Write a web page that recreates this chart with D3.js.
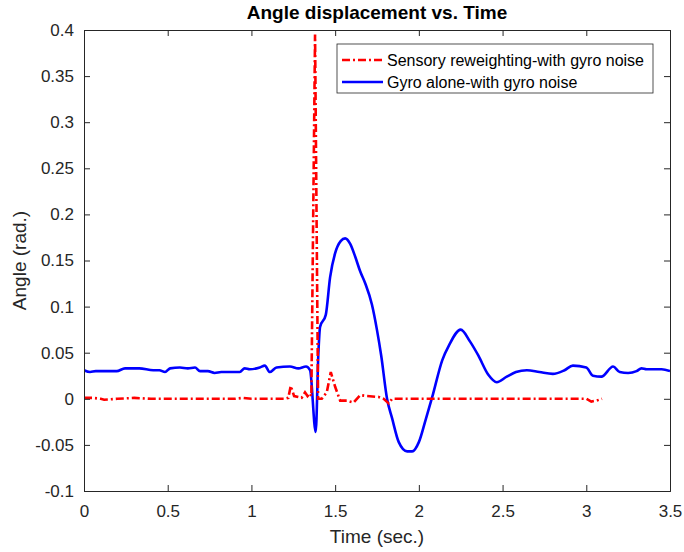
<!DOCTYPE html>
<html>
<head>
<meta charset="utf-8">
<script src="https://cdn.jsdelivr.net/npm/d3@7/dist/d3.min.js"></script>
<style>
  html, body { margin: 0; padding: 0; background: #fff; }
  svg { display: block; }
  text { font-family: "Liberation Sans", Arial, Helvetica, sans-serif; }
</style>
</head>
<body>
<svg id="chart" width="684" height="552"></svg>
<script>
// ---- data ----
const titleText = "Angle displacement vs. Time";
const xLabel = "Time (sec.)";
const yLabel = "Angle (rad.)";
const seriesNames = ["Sensory reweighting-with gyro noise", "Gyro alone-with gyro noise"];
const xTicks = [0, 0.5, 1, 1.5, 2, 2.5, 3, 3.5];
const yTicks = [-0.1, -0.05, 0, 0.05, 0.1, 0.15, 0.2, 0.25, 0.3, 0.35, 0.4];

const redT = [0, 0.05, 0.1, 0.12, 0.2, 0.3, 0.4, 0.5, 0.6, 0.7, 0.8, 0.9, 0.95, 1.0, 1.1, 1.2, 1.22, 1.235, 1.255, 1.3, 1.32, 1.335, 1.35, 1.358, 1.38, 1.398, 1.42, 1.45, 1.474, 1.5, 1.53, 1.57, 1.61, 1.65, 1.69, 1.76, 1.79, 1.82, 1.84, 2.0, 2.5, 3.0, 3.03, 3.06, 3.094];
const redV = [0.001, 0.001, 0.0, -0.001, 0.0, 0.001, 0.0, 0.0, 0.0, 0.0, 0.0, 0.0, 0.001, 0.0, 0.0, 0.0, 0.001, 0.014, 0.003, 0.001, 0.007, 0.003, 0.006, 0.003, 0.395, 0.0, 0.0, 0.007, 0.029, 0.013, -0.002, -0.002, -0.004, 0.004, 0.003, 0.002, 0.0, -0.005, 0.0, 0.0, 0.0, 0.0, -0.003, -0.002, 0.0];

const blueT = [0, 0.036, 0.07, 0.195, 0.245, 0.33, 0.414, 0.45, 0.484, 0.514, 0.573, 0.62, 0.663, 0.693, 0.74, 0.78, 0.82, 0.93, 0.96, 0.99, 1.05, 1.08, 1.11, 1.15, 1.23, 1.28, 1.326, 1.35, 1.384, 1.40, 1.41, 1.444, 1.47, 1.50, 1.533, 1.56, 1.59, 1.62, 1.65, 1.68, 1.72, 1.75, 1.775, 1.81, 1.84, 1.88, 1.93, 1.96, 2.0, 2.04, 2.08, 2.14, 2.18, 2.25, 2.306, 2.355, 2.415, 2.465, 2.525, 2.58, 2.645, 2.72, 2.80, 2.87, 2.92, 3.00, 3.04, 3.09, 3.16, 3.20, 3.25, 3.30, 3.33, 3.36, 3.45, 3.5];
const blueV = [0.031, 0.029, 0.030, 0.030, 0.033, 0.033, 0.031, 0.031, 0.029, 0.033, 0.034, 0.033, 0.034, 0.030, 0.030, 0.028, 0.029, 0.029, 0.033, 0.032, 0.034, 0.036, 0.029, 0.034, 0.035, 0.033, 0.035, 0.031, -0.036, 0.05, 0.078, 0.091, 0.132, 0.158, 0.171, 0.174, 0.168, 0.154, 0.138, 0.125, 0.102, 0.0745, 0.047, 0.0, -0.021, -0.047, -0.057, -0.057, -0.047, -0.023, 0.002, 0.042, 0.058, 0.075, 0.062, 0.047, 0.026, 0.018, 0.024, 0.029, 0.031, 0.029, 0.027, 0.031, 0.036, 0.034, 0.025, 0.024, 0.035, 0.029, 0.028, 0.030, 0.033, 0.032, 0.032, 0.030];

// ---- layout ----
const L = 84, R = 670, T = 30, B = 491;
const axisColor = "#262626";

const svg = d3.select("#chart");
const x = d3.scaleLinear().domain([0, 3.5]).range([L, R]);
const y = d3.scaleLinear().domain([-0.1, 0.4]).range([B, T]);

svg.append("defs").append("clipPath").attr("id", "clip")
  .append("rect").attr("x", L).attr("y", T).attr("width", R - L).attr("height", B - T);

const redData = redT.map((t, i) => [t, redV[i]]);
const blueData = blueT.map((t, i) => [t, blueV[i]]);
const lineRed = d3.line().x(d => x(d[0])).y(d => y(d[1]));
const lineBlue = d3.line().x(d => x(d[0])).y(d => y(d[1])).curve(d3.curveMonotoneX);

const plot = svg.append("g").attr("clip-path", "url(#clip)");
plot.append("path").datum(blueData).attr("d", lineBlue)
  .attr("fill", "none").attr("stroke", "#0000ff").attr("stroke-width", 2.6)
  .attr("stroke-linejoin", "round");
plot.append("path").datum(redData).attr("d", lineRed)
  .attr("fill", "none").attr("stroke", "#ff0000").attr("stroke-width", 2.6)
  .attr("stroke-dasharray", "8,3,2,3");

// axes
const tickLen = 6;
const fontTick = 17;
const gx = svg.append("g").attr("transform", `translate(0,${B})`)
  .call(d3.axisBottom(x).tickValues(xTicks).tickSize(-tickLen).tickPadding(14).tickFormat(d3.format("")));
const gxTop = svg.append("g").attr("transform", `translate(0,${T})`)
  .call(d3.axisTop(x).tickValues(xTicks).tickSize(-tickLen).tickFormat(""));
const gy = svg.append("g").attr("transform", `translate(${L},0)`)
  .call(d3.axisLeft(y).tickValues(yTicks).tickSize(-tickLen).tickPadding(10));
const gyR = svg.append("g").attr("transform", `translate(${R},0)`)
  .call(d3.axisRight(y).tickValues(yTicks).tickSize(-tickLen).tickFormat(""));

[gx, gxTop, gy, gyR].forEach(g => {
  g.select(".domain").attr("stroke", axisColor).attr("stroke-width", 1);
  g.selectAll(".tick line").attr("stroke", axisColor).attr("stroke-width", 1);
  g.selectAll(".tick text").attr("fill", axisColor).style("font-size", fontTick + "px")
    .style("font-family", '"Liberation Sans", Arial, sans-serif');
});
gy.selectAll(".tick text").text(d => (+d.toFixed(2)).toString());

// title and labels
svg.append("text").attr("x", (L + R) / 2).attr("y", 19).attr("text-anchor", "middle")
  .style("font-size", "19px").style("font-weight", "bold").attr("fill", "#000").text(titleText);
svg.append("text").attr("x", (L + R) / 2).attr("y", 543).attr("text-anchor", "middle")
  .style("font-size", "19px").attr("fill", axisColor).text(xLabel);
svg.append("text").attr("transform", `translate(26,${(T + B) / 2}) rotate(-90)`).attr("text-anchor", "middle")
  .style("font-size", "19px").attr("fill", axisColor).text(yLabel);

// legend
const lg = svg.append("g");
const lx = 337, ly = 44, lw = 316, lh = 49;
lg.append("rect").attr("x", lx).attr("y", ly).attr("width", lw).attr("height", lh)
  .attr("fill", "#fff").attr("stroke", axisColor).attr("stroke-width", 0.8);
const legendStyles = [{ c: "#ff0000", dash: "8,3,2,3" }, { c: "#0000ff", dash: null }];
seriesNames.forEach((name, i) => {
  const cy = ly + 16 + i * 22;
  const ln = lg.append("line").attr("x1", lx + 5).attr("x2", lx + 46).attr("y1", cy).attr("y2", cy)
    .attr("stroke", legendStyles[i].c).attr("stroke-width", 2.6);
  if (legendStyles[i].dash) ln.attr("stroke-dasharray", legendStyles[i].dash);
  lg.append("text").attr("x", lx + 50).attr("y", cy + 6).style("font-size", "16px")
    .attr("fill", "#000").text(name);
});
</script>
</body>
</html>
